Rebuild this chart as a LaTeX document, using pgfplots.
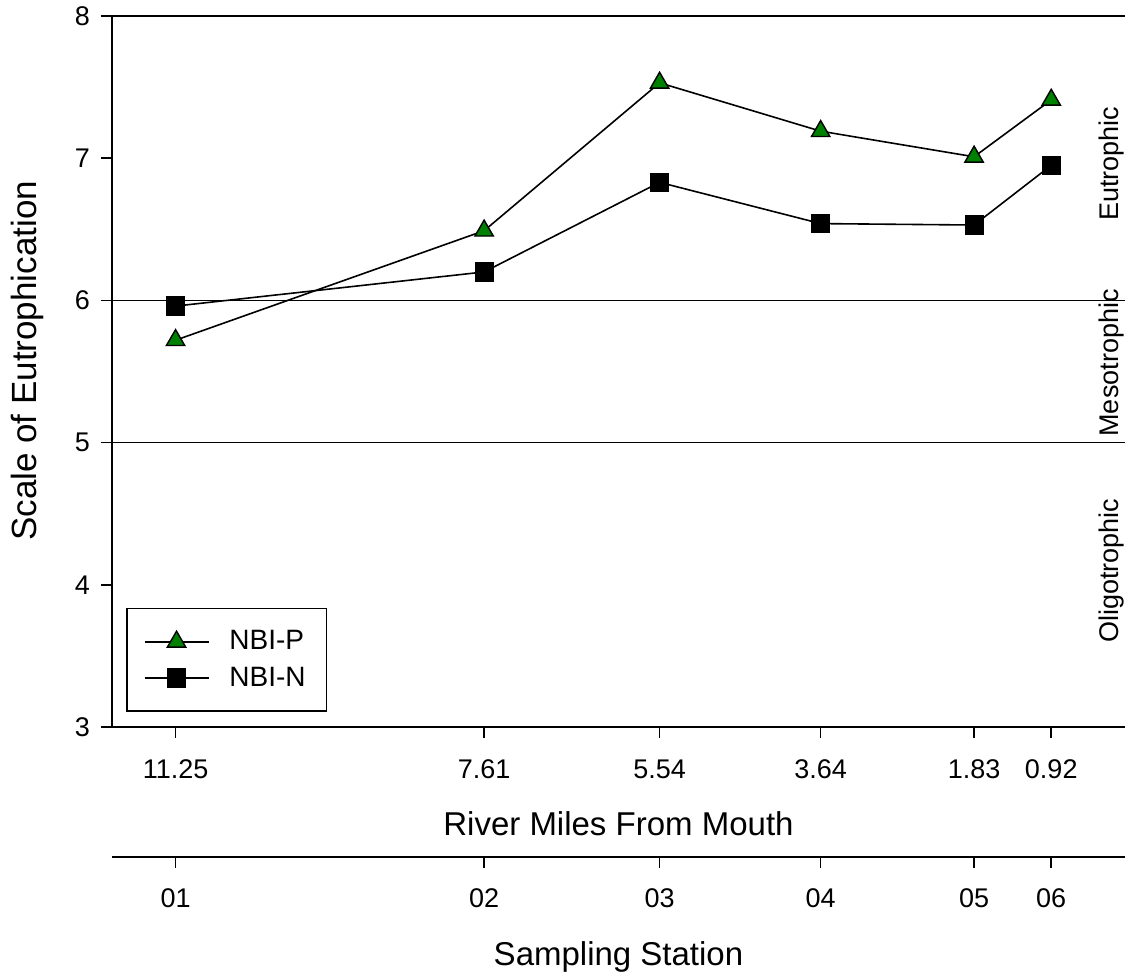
\documentclass[border=0pt]{standalone}
\usepackage{pgfplots}
\pgfplotsset{compat=1.18}
\usepackage{fontspec}
\setmainfont{Liberation Sans}
\definecolor{pgreen}{RGB}{0,128,0}
\begin{document}
\begin{tikzpicture}
\begin{axis}[
  at={(0pt,0pt)}, anchor=south west,
  scale only axis, width=506.5pt, height=355.5pt,
  x dir=reverse, xmin=0.05, xmax=12, ymin=3, ymax=8,
  axis x line*=bottom, axis y line*=left,
  axis line style={-, line width=0.8pt},
  xtick={11.25,7.61,5.54,3.64,1.83,0.92},
  xticklabels={11.25,7.61,5.54,3.64,1.83,0.92},
  ytick={3,4,5,6,7,8},
  tick align=outside, major tick length=5.5pt,
  tick style={line width=0.8pt, black},
  ticklabel style={font=\fontsize{13.5}{16}\selectfont},
  xticklabel style={yshift=-7.5pt},
  yticklabel style={xshift=-2pt},
  /pgf/number format/assume math mode=true,
  xlabel={River Miles From Mouth},
  ylabel={Scale of Eutrophication},
  xlabel style={font=\fontsize{16.5}{20}\selectfont, at={(axis description cs:0.5,-0.1364)}, anchor=center},
  ylabel style={font=\fontsize{17.5}{20}\selectfont, at={(axis description cs:-0.0834,0.515)}, anchor=center},
  clip=false,
  legend style={at={(0.0138,0.0211)}, anchor=south west, draw=black, line width=0.8pt,
    font=\fontsize{14}{16}\selectfont, inner xsep=8.5pt, inner ysep=9pt, row sep=3pt,
    /tikz/every odd column/.append style={column sep=8pt}},
  legend cell align=left,
  legend image code/.code={\draw[mark repeat=2,mark phase=2] plot coordinates {(0pt,0pt) (16pt,0pt) (32pt,0pt)};},
]
\draw[line width=0.8pt] (rel axis cs:0,1) -- (rel axis cs:1,1);
\draw[line width=0.8pt] (axis cs:12,6) -- (axis cs:0.05,6);
\draw[line width=0.8pt] (axis cs:12,5) -- (axis cs:0.05,5);
\addplot[black, line width=0.8pt, mark=triangle*, mark size=5.3pt,
  mark options={fill=pgreen, draw=black, line width=0.7pt}]
  coordinates {(11.25,5.72) (7.61,6.49) (5.54,7.53) (3.64,7.19) (1.83,7.01) (0.92,7.41)};
\addlegendentry{NBI-P\hspace{7pt}}
\addplot[black, line width=0.8pt, mark=square*, mark size=4.4pt,
  mark options={fill=black, draw=black}]
  coordinates {(11.25,5.96) (7.61,6.20) (5.54,6.83) (3.64,6.54) (1.83,6.53) (0.92,6.95)};
\addlegendentry{NBI-N\hspace{7pt}}
\node[rotate=90, font=\fontsize{13.5}{16}\selectfont] at (axis cs:0.21,6.96) {Eutrophic};
\node[rotate=90, font=\fontsize{13.5}{16}\selectfont] at (axis cs:0.21,5.56) {Mesotrophic};
\node[rotate=90, font=\fontsize{13.5}{16}\selectfont] at (axis cs:0.21,4.1) {Oligotrophic};
\end{axis}
\begin{axis}[
  at={(0pt,-65pt)}, anchor=south west,
  scale only axis, width=506.5pt, height=10pt,
  x dir=reverse, xmin=0.05, xmax=12, ymin=0, ymax=1,
  axis x line*=bottom, axis y line=none,
  axis line style={-, line width=0.8pt},
  xtick={11.25,7.61,5.54,3.64,1.83,0.92},
  xticklabels={01,02,03,04,05,06},
  tick align=outside, major tick length=5.5pt,
  tick style={line width=0.8pt, black},
  ticklabel style={font=\fontsize{13.5}{16}\selectfont},
  xticklabel style={yshift=-7pt},
  xlabel={Sampling Station},
  xlabel style={font=\fontsize{16.5}{20}\selectfont, at={(axis description cs:0.5,0)}, anchor=center, yshift=-50pt},
]
\end{axis}
\pgfresetboundingbox
\path[use as bounding box] (-56pt,-125.5pt) rectangle (506.5pt,363.5pt);
\end{tikzpicture}
\end{document}
